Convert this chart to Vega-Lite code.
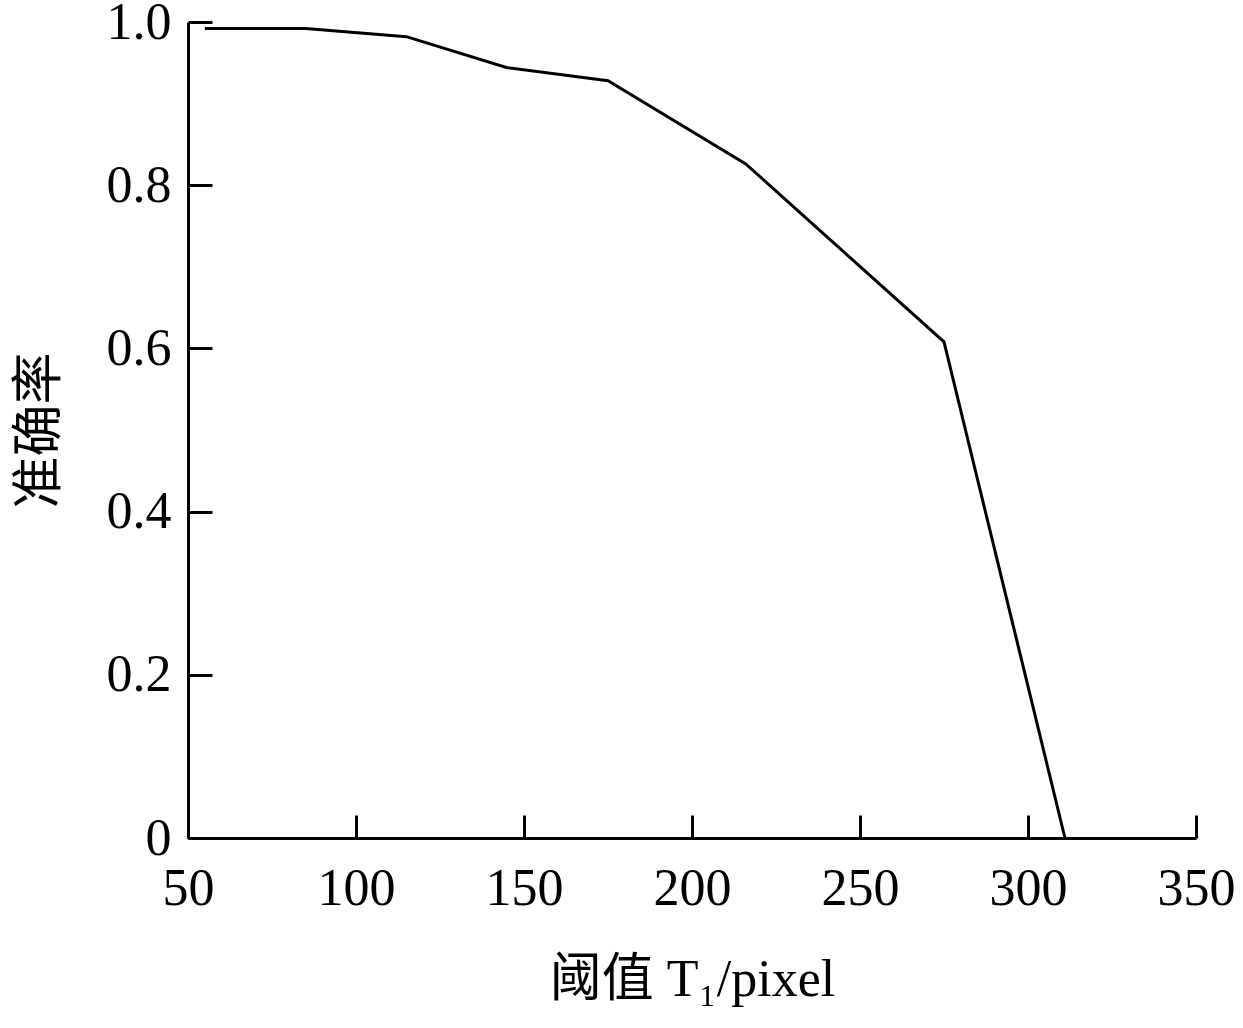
{
  "$schema": "https://vega.github.io/schema/vega-lite/v6.json",
  "width": 1008,
  "height": 816,
  "autosize": {"type": "none"},
  "padding": {"left": 188, "top": 22, "right": 47, "bottom": 190},
  "background": "white",
  "config": {
    "view": {"stroke": null},
    "font": "Liberation Serif",
    "axis": {
      "grid": false,
      "domainColor": "black",
      "domainWidth": 3,
      "tickColor": "black",
      "tickWidth": 3,
      "labelColor": "black",
      "titleColor": "black",
      "labelFont": "Liberation Serif",
      "titleFont": "Liberation Serif, Noto Sans CJK SC",
      "labelFontSize": 52,
      "titleFontSize": 52,
      "titleFontWeight": "normal"
    }
  },
  "data": {
    "values": [
      {"x": 55, "y": 0.992},
      {"x": 85, "y": 0.992},
      {"x": 115, "y": 0.982},
      {"x": 145, "y": 0.944},
      {"x": 175, "y": 0.928},
      {"x": 216, "y": 0.826},
      {"x": 275, "y": 0.608},
      {"x": 311, "y": 0.0}
    ]
  },
  "mark": {"type": "line", "color": "black", "strokeWidth": 3},
  "encoding": {
    "x": {
      "field": "x",
      "type": "quantitative",
      "scale": {"domain": [50, 350], "nice": false, "zero": false},
      "axis": {
        "values": [50, 100, 150, 200, 250, 300, 350],
        "tickSize": -23,
        "labelPadding": 48,
        "labelFlush": false,
        "title": "阈值 T₁/pixel",
        "titlePadding": 40
      }
    },
    "y": {
      "field": "y",
      "type": "quantitative",
      "scale": {"domain": [0, 1], "nice": false},
      "axis": {
        "values": [0, 0.2, 0.4, 0.6, 0.8, 1.0],
        "tickSize": -24,
        "labelPadding": 41,
        "labelFlush": false,
        "labelExpr": "datum.value == 0 ? '0' : format(datum.value, '.1f')",
        "title": "准确率",
        "titlePadding": 40
      }
    }
  }
}
